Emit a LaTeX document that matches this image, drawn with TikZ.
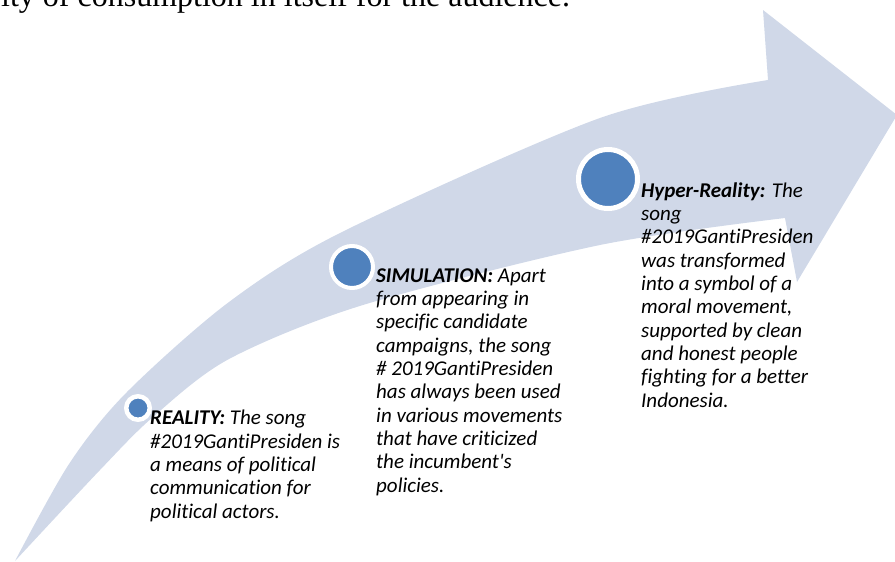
\documentclass[tikz,border=0pt]{standalone}
\usepackage{fontspec}
\setmainfont{Carlito}[Ligatures={NoCommon}]
\newfontfamily\bodyserif{Liberation Serif}
\definecolor{bandgrey}{RGB}{208,216,232}
\definecolor{stageblue}{RGB}{79,129,189}

\begin{document}
\begin{tikzpicture}[x=1pt,y=-1pt,
    stage/.style={circle,fill=stageblue,draw=white,inner sep=0pt},
    stagetext/.style={anchor=base west,align=left,inner sep=0pt,
      font=\fontsize{21}{23.3}\selectfont\itshape}]
    \useasboundingbox (0,0) rectangle (895,562);
    \clip (0,0) rectangle (895,562);

    % running text of the page above the figure
    \node[anchor=base west,inner sep=0pt,font=\bodyserif\fontsize{32}{38}\selectfont]
        (above) at (1,6) {ity of consumption in itself for the audience.};

    % the curved arrow
    \fill[bandgrey] (15,561)
        -- plot[smooth] coordinates {(15,561) (69,464) (126,393) (229,302) (344,231) (600,118) (768,80)}
        -- (763,10) -- (897,115) -- (797,282) -- (785,218)
        -- plot[smooth] coordinates {(785,218) (600,245) (363,305) (229,359) (153,417) (100,470) (15,561)}
        -- cycle;

    % stages
    \node[stage,minimum size=23.5pt,line width=4.5pt] (real) at (138,408) {};
    \node[stage,minimum size=42pt,line width=4pt] (simu) at (352,267) {};
    \node[stage,minimum size=59pt,line width=5pt] (hyper) at (608,179) {};

    % base anchor sits on the last line
    \node[stagetext] (realtext) at (150,518)
        {\textbf{REALITY:} The song\\ \#2019GantiPresiden is\\ a means of political\\
         communication for\\ political actors.};
    \node[stagetext] (simutext) at (376,492)
        {\textbf{SIMULATION:} Apart\\ from appearing in\\ specific candidate\\
         campaigns, the song\\ \# 2019GantiPresiden\\ has always been used\\
         in various movements\\ that have criticized\\ the incumbent\textquotesingle s\\ policies.};
    \node[stagetext] (hypertext) at (641,407)
        {\textbf{Hyper-Reality:} The\\ song\\ \#2019GantiPresiden\\ was transformed\\
         into a symbol of a\\ moral movement,\\ supported by clean\\ and honest people\\
         fighting for a better\\ Indonesia.};
\end{tikzpicture}
\end{document}
